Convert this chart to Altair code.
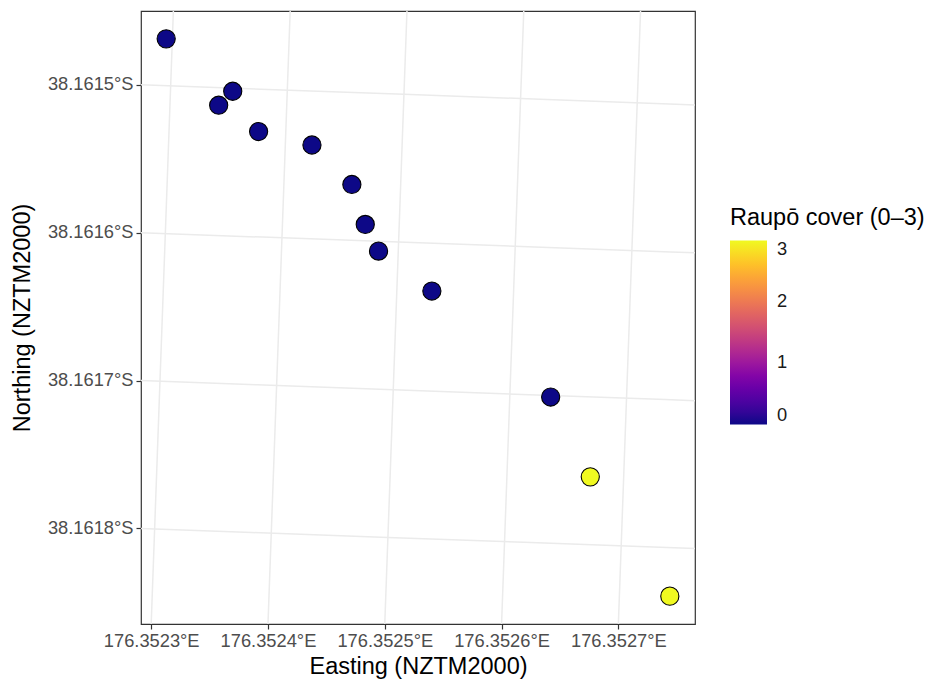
import numpy as np
import pandas as pd
import altair as alt

# Survey plots: WGS84 longitude / latitude (degrees) and raupō cover score
plot_lon = [176.3522947, 176.3523533, 176.3523417, 176.3523767, 176.3524228, 176.3524582,
            176.3524709, 176.3524831, 176.3525300, 176.3526350, 176.3526714, 176.3527432]
plot_lat = [-38.1614683, -38.1615021, -38.1615119, -38.1615287, -38.1615365, -38.1615622,
            -38.1615889, -38.1616066, -38.1616323, -38.1617011, -38.1617541, -38.1618328]
cover = [0, 0, 0, 0, 0, 0, 0, 0, 0, 0, 3, 3]

# Graticule lines and their labels
grid_lon = [176.3523, 176.3524, 176.3525, 176.3526, 176.3527]
grid_lon_labels = ["176.3523°E", "176.3524°E", "176.3525°E", "176.3526°E", "176.3527°E"]
grid_lat = [-38.1615, -38.1616, -38.1617, -38.1618]
grid_lat_labels = ["38.1615°S", "38.1616°S", "38.1617°S", "38.1618°S"]

FONT = "Liberation Sans, Arial, Helvetica, sans-serif"

# ---- NZTM2000 (transverse Mercator on GRS80) ----
A_GRS80 = 6378137.0
FLAT = 1 / 298.257222101
E2 = FLAT * (2 - FLAT)
EP2 = E2 / (1 - E2)
K0 = 0.9996
LON0 = np.radians(173.0)
FALSE_E, FALSE_N = 1600000.0, 10000000.0


def meridian_arc(phi):
    e4, e6 = E2 ** 2, E2 ** 3
    return A_GRS80 * ((1 - E2 / 4 - 3 * e4 / 64 - 5 * e6 / 256) * phi
                      - (3 * E2 / 8 + 3 * e4 / 32 + 45 * e6 / 1024) * np.sin(2 * phi)
                      + (15 * e4 / 256 + 45 * e6 / 1024) * np.sin(4 * phi)
                      - (35 * e6 / 3072) * np.sin(6 * phi))


def nztm(lon_deg, lat_deg):
    phi = np.radians(np.asarray(lat_deg, float))
    lam = np.radians(np.asarray(lon_deg, float))
    n = A_GRS80 / np.sqrt(1 - E2 * np.sin(phi) ** 2)
    t = np.tan(phi) ** 2
    c = EP2 * np.cos(phi) ** 2
    a = (lam - LON0) * np.cos(phi)
    m = meridian_arc(phi)
    x = K0 * n * (a + (1 - t + c) * a ** 3 / 6
                  + (5 - 18 * t + t ** 2 + 72 * c - 58 * EP2) * a ** 5 / 120)
    y = K0 * (m + n * np.tan(phi) * (a ** 2 / 2 + (5 - t + 9 * c + 4 * c ** 2) * a ** 4 / 24
                                     + (61 - 58 * t + t ** 2 + 600 * c - 330 * EP2) * a ** 6 / 720))
    return FALSE_E + x, FALSE_N + y


east, north = nztm(plot_lon, plot_lat)
points = pd.DataFrame({"E": east, "N": north, "cover": cover})

# panel limits: data extent expanded by 5% on each side
e_lo, e_hi = east.min(), east.max()
n_lo, n_hi = north.min(), north.max()
pad_e, pad_n = 0.05 * (e_hi - e_lo), 0.05 * (n_hi - n_lo)
e_lo, e_hi = e_lo - pad_e, e_hi + pad_e
n_lo, n_hi = n_lo - pad_n, n_hi + pad_n

CANVAS_W, CANVAS_H = 930, 680
LEFT, TOP = 141, 11
PANEL_W = 554
PANEL_H = int(round(PANEL_W * (n_hi - n_lo) / (e_hi - e_lo)))

# graticule as projected polylines
rows = []
lat_span = np.linspace(-38.16135, -38.16195, 7)
lon_span = np.linspace(176.35215, 176.35285, 7)
bottom_ticks, left_ticks = [], []
for lon_v in grid_lon:
    ge, gn = nztm(np.full_like(lat_span, lon_v), lat_span)
    for k, (e_, n_) in enumerate(zip(ge, gn)):
        rows.append({"E": e_, "N": n_, "line": f"m{lon_v}", "k": k})
    # where the meridian meets the bottom edge of the panel
    bottom_ticks.append(float(np.interp(n_lo, gn[::-1], ge[::-1])))
for lat_v in grid_lat:
    ge, gn = nztm(lon_span, np.full_like(lon_span, lat_v))
    for k, (e_, n_) in enumerate(zip(ge, gn)):
        rows.append({"E": e_, "N": n_, "line": f"p{lat_v}", "k": k})
    # where the parallel meets the left edge of the panel
    left_ticks.append(float(np.interp(e_lo, ge, gn)))
graticule = pd.DataFrame(rows)


def label_expr(values, labels):
    pairs = sorted(zip(values, labels))
    expr = f"'{pairs[-1][1]}'"
    for i in range(len(pairs) - 2, -1, -1):
        mid = (pairs[i][0] + pairs[i + 1][0]) / 2
        expr = f"datum.value < {mid:.4f} ? '{pairs[i][1]}' : " + expr
    return expr


axis_style = dict(
    grid=False, domain=False,
    tickSize=5, tickColor="#333333", tickWidth=1.2,
    labelColor="#4D4D4D", labelFontSize=18.3, labelFont=FONT, labelPadding=3,
    labelFlush=False, labelOverlap=False,
    titleFont=FONT, titleFontSize=23.5, titleFontWeight="normal", titleColor="black",
)

x_enc = alt.X(
    "E:Q",
    scale=alt.Scale(domain=[e_lo, e_hi], nice=False, zero=False),
    axis=alt.Axis(
        values=bottom_ticks, labelExpr=label_expr(bottom_ticks, grid_lon_labels),
        title="Easting (NZTM2000)", titlePadding=5, **axis_style,
    ),
)
y_enc = alt.Y(
    "N:Q",
    scale=alt.Scale(domain=[n_lo, n_hi], nice=False, zero=False),
    axis=alt.Axis(
        values=left_ticks, labelExpr=label_expr(left_ticks, grid_lat_labels),
        title="Northing (NZTM2000)", titlePadding=13, **axis_style,
    ),
)

grid_layer = alt.Chart(graticule).mark_line(
    color="#EBEBEB", strokeWidth=1.5, clip=True
).encode(x=x_enc, y=y_enc, detail="line:N", order="k:Q")

point_layer = alt.Chart(points).mark_circle(
    size=330, opacity=1, stroke="black", strokeWidth=1.1
).encode(
    x=x_enc,
    y=y_enc,
    fill=alt.Fill(
        "cover:Q",
        scale=alt.Scale(scheme="plasma", domain=[0, 3]),
        legend=alt.Legend(
            title="Raupō cover (0–3)", orient="none", legendX=589, legendY=195,
            direction="vertical", gradientLength=184, gradientThickness=37,
            gradientStrokeWidth=0, values=[0, 1, 2, 3],
            titleFont=FONT, titleFontSize=23.5, titleFontWeight="normal", titleColor="black",
            titleLimit=400, titlePadding=11,
            labelFont=FONT, labelFontSize=18.3, labelColor="#1A1A1A",
            labelOffset=10, padding=0,
        ),
    ),
)

chart = (
    alt.layer(grid_layer, point_layer)
    .properties(
        width=PANEL_W,
        height=PANEL_H,
        padding={"left": LEFT, "top": TOP,
                 "right": CANVAS_W - LEFT - PANEL_W, "bottom": CANVAS_H - TOP - PANEL_H},
        autosize=alt.AutoSizeParams(type="none"),
        background="white",
    )
    .configure_view(stroke="#333333", strokeWidth=1.2)
)

chart.save("out.html", embed_options={"renderer": "svg", "actions": False})
